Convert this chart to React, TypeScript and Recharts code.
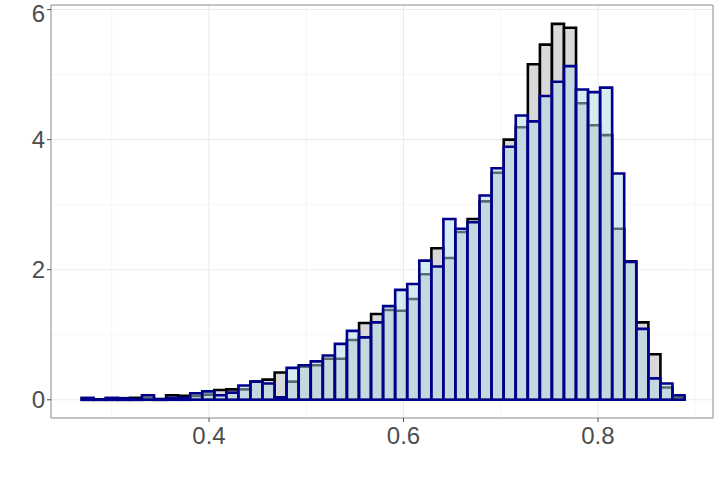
import React from 'react'
import { BarChart, Bar, XAxis, YAxis, CartesianGrid, ReferenceArea } from 'recharts'

// histogram bins (left edge + width), 50 bins
const BIN_START = 0.2691
const BIN_WIDTH = 0.0124
const BIN_COUNT = 50

// density of the first sample (black outline, grey fill)
const greyDensity = [
  0.02, 0.005, 0.02, 0.02, 0.03, 0.03, 0.01, 0.07, 0.06, 0.06,
  0.08, 0.15, 0.16, 0.16, 0.28, 0.31, 0.42, 0.28, 0.51, 0.53,
  0.63, 0.63, 0.92, 1.18, 1.32, 1.38, 1.37, 1.55, 1.93, 2.33,
  2.18, 2.58, 2.78, 3.05, 3.49, 4.0, 4.19, 5.16, 5.46, 5.78,
  5.72, 4.56, 4.22, 4.07, 2.63, 2.13, 1.19, 0.7, 0.19, 0.04,
]

// density of the second sample (navy outline, light blue fill)
const blueDensity = [
  0.03, 0.005, 0.03, 0.025, 0.01, 0.07, 0.01, 0.03, 0.03, 0.1,
  0.13, 0.07, 0.11, 0.22, 0.28, 0.25, 0.04, 0.49, 0.53, 0.59,
  0.68, 0.86, 1.06, 0.96, 1.19, 1.44, 1.69, 1.78, 2.14, 2.05,
  2.78, 2.63, 2.73, 3.14, 3.56, 3.89, 4.37, 4.28, 4.67, 4.89,
  5.13, 4.77, 4.73, 4.8, 3.48, 2.12, 1.09, 0.33, 0.25, 0.07,
]

const xTicks = [0.4, 0.6, 0.8]
const xMinor = [0.3, 0.5, 0.7, 0.9]
const yTicks = [0, 2, 4, 6]
const yMinor = [1, 3, 5]

// ggplot style 5% expansion
const X_DOMAIN: [number, number] = [0.2375, 0.9183]
const Y_DOMAIN: [number, number] = [-0.28, 6.07]

const WIDTH = 720
const HEIGHT = 480
const MARGIN = { top: 5, right: 7, left: 0, bottom: 0 }
const Y_AXIS_W = 51
const X_AXIS_H = 62

const data = greyDensity.map((g, i) => ({
  bin: i,
  mid: BIN_START + BIN_WIDTH * (i + 0.5),
  grey: g,
  blue: blueDensity[i],
}))

// pad the band axis so the bins line up with the numeric axis
const plotW = WIDTH - MARGIN.left - MARGIN.right - Y_AXIS_W
const span = X_DOMAIN[1] - X_DOMAIN[0]
const binEnd = BIN_START + BIN_WIDTH * BIN_COUNT
const padLeft = ((BIN_START - X_DOMAIN[0]) / span) * plotW
const padRight = ((X_DOMAIN[1] - binEnd) / span) * plotW

const tickStyle = { fill: '#4d4d4d', fontSize: 24, fontFamily: '"Liberation Sans", Arial, sans-serif' }

export default function App() {
  return (
    <div style={{ position: 'absolute', left: 0, top: 0, background: '#fff' }}>
      <BarChart
        width={WIDTH}
        height={HEIGHT}
        data={data}
        margin={MARGIN}
        barCategoryGap={0}
        barGap="-100%"
      >
        <CartesianGrid
          xAxisId="num"
          yAxisId="y"
          verticalValues={xMinor}
          horizontalValues={yMinor}
          stroke="#f4f4f4"
          strokeWidth={0.8}
        />
        <CartesianGrid
          xAxisId="num"
          yAxisId="y"
          verticalValues={xTicks}
          horizontalValues={yTicks}
          stroke="#ebebeb"
          strokeWidth={1.1}
        />
        <XAxis
          xAxisId="num"
          dataKey="mid"
          type="number"
          domain={X_DOMAIN}
          ticks={xTicks}
          allowDataOverflow
          height={X_AXIS_H}
          axisLine={false}
          tickSize={4}
          tickMargin={5}
          tickLine={{ stroke: '#4d4d4d' }}
          tick={tickStyle}
        />
        <XAxis xAxisId="cat" dataKey="bin" hide height={0} padding={{ left: padLeft, right: padRight }} />
        <YAxis
          yAxisId="y"
          type="number"
          domain={Y_DOMAIN}
          ticks={yTicks}
          allowDataOverflow
          width={Y_AXIS_W}
          axisLine={false}
          tickSize={4}
          tickMargin={2}
          tickLine={{ stroke: '#4d4d4d' }}
          tick={tickStyle}
        />
        <Bar
          xAxisId="cat"
          yAxisId="y"
          dataKey="grey"
          fill="#d9d9d9"
          stroke="#000000"
          strokeWidth={2.6}
          isAnimationActive={false}
        />
        <Bar
          xAxisId="cat"
          yAxisId="y"
          dataKey="blue"
          fill="#add8e6"
          fillOpacity={0.5}
          stroke="#00008b"
          strokeWidth={2.6}
          isAnimationActive={false}
        />
        <ReferenceArea
          xAxisId="num"
          yAxisId="y"
          x1={X_DOMAIN[0]}
          x2={X_DOMAIN[1]}
          y1={Y_DOMAIN[0]}
          y2={Y_DOMAIN[1]}
          fill="none"
          stroke="#8a8a8a"
          strokeWidth={1}
          ifOverflow="visible"
        />
      </BarChart>
    </div>
  )
}
